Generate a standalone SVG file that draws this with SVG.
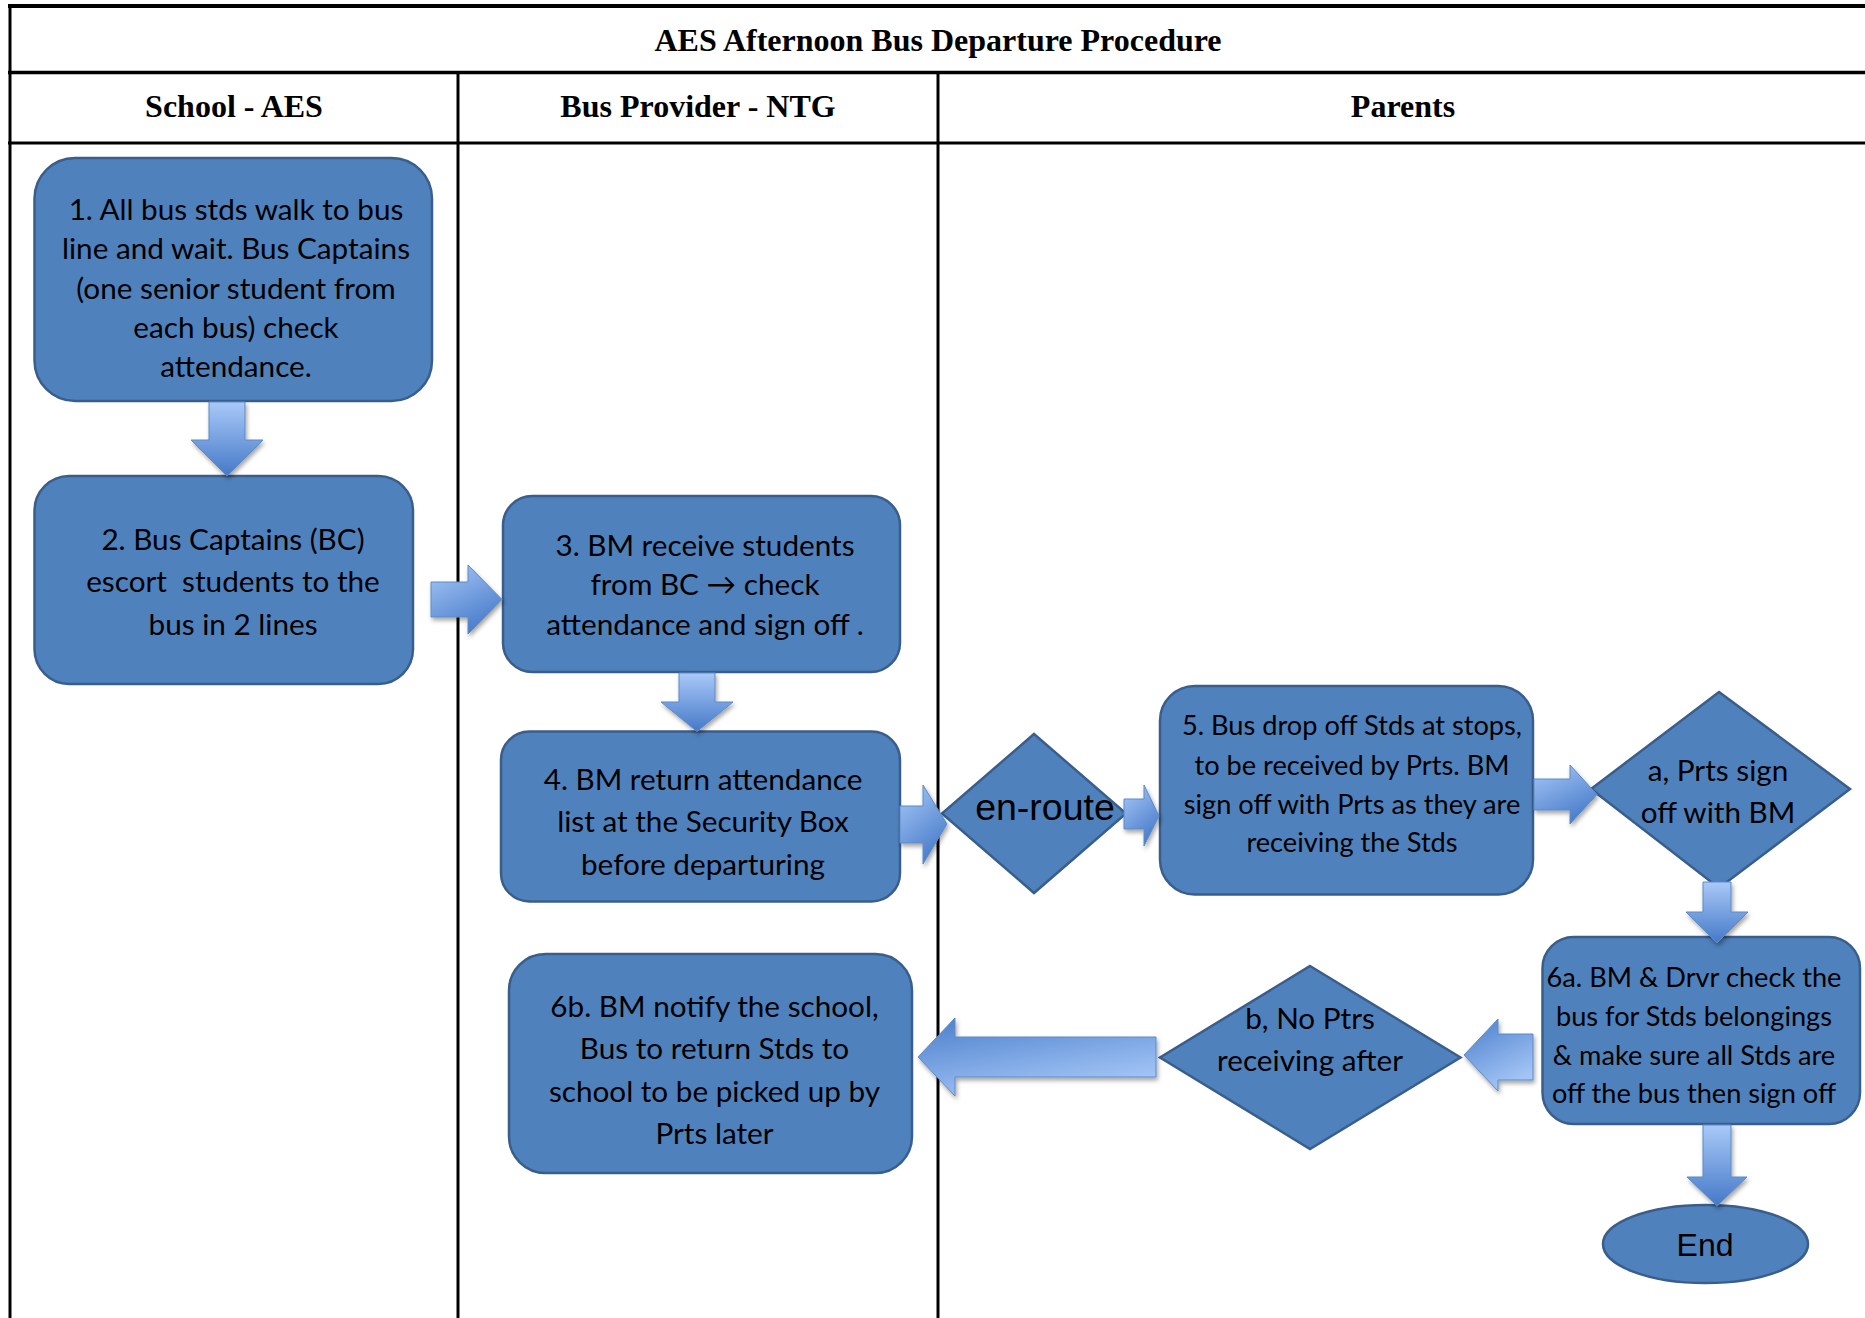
<svg xmlns="http://www.w3.org/2000/svg" width="1865" height="1318" viewBox="0 0 1865 1318">
<style>
.grid{stroke:#000;fill:none}
.hdr{font-family:"Liberation Serif","Times New Roman",serif;font-weight:bold;font-size:32px;text-anchor:middle;fill:#000}
.box{fill:#4F81BD;stroke:#3A5E8C;stroke-width:2.5}
.t{font-family:Lato,"Noto Sans",sans-serif;font-size:29.7px;text-anchor:middle;fill:#000}
.ts{font-size:27.2px}
.ar{font-family:"Liberation Sans",Arial,sans-serif;text-anchor:middle;fill:#000}
.arw{stroke:#5B8BC8;stroke-width:1;filter:url(#sh)}
</style>
<defs>
<linearGradient id="gR" x1="0" y1="0" x2="0.5" y2="1"><stop offset="0" stop-color="#A9C9F8"/><stop offset="1" stop-color="#4A7ECB"/></linearGradient>
<linearGradient id="gD" x1="0" y1="0" x2="0" y2="1"><stop offset="0" stop-color="#A9C9F8"/><stop offset="1" stop-color="#4579C8"/></linearGradient>
<linearGradient id="gL" x1="0.5" y1="1" x2="0" y2="0"><stop offset="0" stop-color="#A3C5F6"/><stop offset="1" stop-color="#4A7ECB"/></linearGradient>
<filter id="sh" x="-20%" y="-20%" width="140%" height="150%"><feDropShadow dx="1.5" dy="3" stdDeviation="2" flood-color="#000" flood-opacity="0.35"/></filter>
</defs>

<g id="table">
<line class="grid" x1="8" y1="6" x2="1865" y2="6" stroke-width="4"/>
<line class="grid" x1="8" y1="72.5" x2="1865" y2="72.5" stroke-width="3.5"/>
<line class="grid" x1="8" y1="143" x2="1865" y2="143" stroke-width="3"/>
<line class="grid" x1="10" y1="4" x2="10" y2="1318" stroke-width="3"/>
<line class="grid" x1="458" y1="72.5" x2="458" y2="1318" stroke-width="3"/>
<line class="grid" x1="938" y1="72.5" x2="938" y2="1318" stroke-width="3"/>
<text class="hdr" x="938" y="50.5">AES Afternoon Bus Departure Procedure</text>
<text class="hdr" x="234" y="117">School - AES</text>
<text class="hdr" x="698" y="117">Bus Provider - NTG</text>
<text class="hdr" x="1403" y="117">Parents</text>
</g>

<g id="n1">
<rect class="box" x="34.5" y="158" width="397.5" height="243" rx="40.5"/>
<text class="t" x="236"><tspan x="236" y="220">1. All bus stds walk to bus</tspan><tspan x="236" y="259">line and wait. Bus Captains</tspan><tspan x="236" y="298.5">(one senior student from</tspan><tspan x="236" y="338">each bus) check</tspan><tspan x="236" y="377">attendance.</tspan></text>
</g>

<g id="n2">
<rect class="box" x="34.5" y="476" width="378.5" height="208" rx="34.7"/>
<text class="t" x="233"><tspan x="233" y="550">2. Bus Captains (BC)</tspan><tspan x="233" y="592" xml:space="preserve">escort  students to the</tspan><tspan x="233" y="634.5">bus in 2 lines</tspan></text>
</g>

<g id="n3">
<rect class="box" x="503" y="496" width="397" height="176" rx="29.3"/>
<text class="t" x="705"><tspan x="705" y="556">3. BM receive students</tspan><tspan x="705" y="595">from BC → check</tspan><tspan x="705" y="634.5">attendance and sign off .</tspan></text>
</g>

<g id="n4">
<rect class="box" x="501" y="731.5" width="399" height="170" rx="28.3"/>
<text class="t" x="703"><tspan x="703" y="790">4. BM return attendance</tspan><tspan x="703" y="832">list at the Security Box</tspan><tspan x="703" y="875">before departuring</tspan></text>
</g>

<g id="enroute">
<polygon class="box" points="1034,734 1126,813.5 1034,893 942,813.5"/>
<text class="ar" x="1045" y="820" font-size="37.5">en-route</text>
</g>

<g id="n5">
<rect class="box" x="1160" y="686" width="373" height="208.5" rx="34.7"/>
<text class="t ts" x="1352"><tspan x="1352" y="735">5. Bus drop off Stds at stops,</tspan><tspan x="1352" y="774.5">to be received by Prts. BM</tspan><tspan x="1352" y="813.5">sign off with Prts as they are</tspan><tspan x="1352" y="851.5">receiving the Stds</tspan></text>
</g>

<g id="na">
<polygon class="box" points="1719,692 1850,789 1719,888 1591,789"/>
<text class="t" x="1718"><tspan x="1718" y="781">a, Prts sign</tspan><tspan x="1718" y="822.5">off with BM</tspan></text>
</g>

<g id="n6a">
<rect class="box" x="1542.5" y="937" width="317.5" height="187" rx="31.2"/>
<text class="t ts" x="1694"><tspan x="1694" y="987">6a. BM &amp; Drvr check the</tspan><tspan x="1694" y="1025.5">bus for Stds belongings</tspan><tspan x="1694" y="1064.5">&amp; make sure all Stds are</tspan><tspan x="1694" y="1102.5">off the bus then sign off</tspan></text>
</g>

<g id="nend">
<ellipse class="box" cx="1705.5" cy="1244" rx="102.5" ry="39"/>
<text class="ar" x="1705" y="1256" font-size="32">End</text>
</g>

<g id="nb">
<polygon class="box" points="1310,966 1460.5,1057.5 1310,1149 1160,1057.5"/>
<text class="t" x="1310"><tspan x="1310" y="1029">b, No Ptrs</tspan><tspan x="1310" y="1071">receiving after</tspan></text>
</g>

<g id="n6b">
<rect class="box" x="509" y="954" width="403" height="219" rx="36.5"/>
<text class="t" x="714.5"><tspan x="714.5" y="1016.5">6b. BM notify the school,</tspan><tspan x="714.5" y="1059">Bus to return Stds to</tspan><tspan x="714.5" y="1102">school to be picked up by</tspan><tspan x="714.5" y="1144">Prts later</tspan></text>
</g>

<g id="connectors">
<polygon class="arw" fill="url(#gD)" points="209,402 245,402 245,440 263,440 227,476 191,440 209,440"/>
<polygon class="arw" fill="url(#gR)" points="431,582 468,582 468,565 502,599.5 468,634 468,617 431,617"/>
<polygon class="arw" fill="url(#gD)" points="679,673 715,673 715,702 733,702 697,731.5 661,702 679,702"/>
<polygon class="arw" fill="url(#gR)" points="900,806 923,806 923,785 947,824 923,864 923,843 900,843"/>
<polygon class="arw" fill="url(#gR)" points="1124,799 1144,799 1144,785 1159,816 1144,846 1144,829 1124,829"/>
<polygon class="arw" fill="url(#gR)" points="1534,779 1570,779 1570,765 1597,794.5 1570,824 1570,810 1534,810"/>
<polygon class="arw" fill="url(#gD)" points="1703,882 1731,882 1731,912 1748,912 1717,943 1686,912 1703,912"/>
<polygon class="arw" fill="url(#gD)" points="1703,1125 1731,1125 1731,1177 1747,1177 1717,1206 1687,1177 1703,1177"/>
<polygon class="arw" fill="url(#gL)" points="1533,1034 1498,1034 1498,1019 1464,1055 1498,1091 1498,1080 1533,1080"/>
<polygon class="arw" fill="url(#gL)" points="1156,1037 955,1037 955,1018 918,1057 955,1096 955,1077 1156,1077"/>
</g>
</svg>
